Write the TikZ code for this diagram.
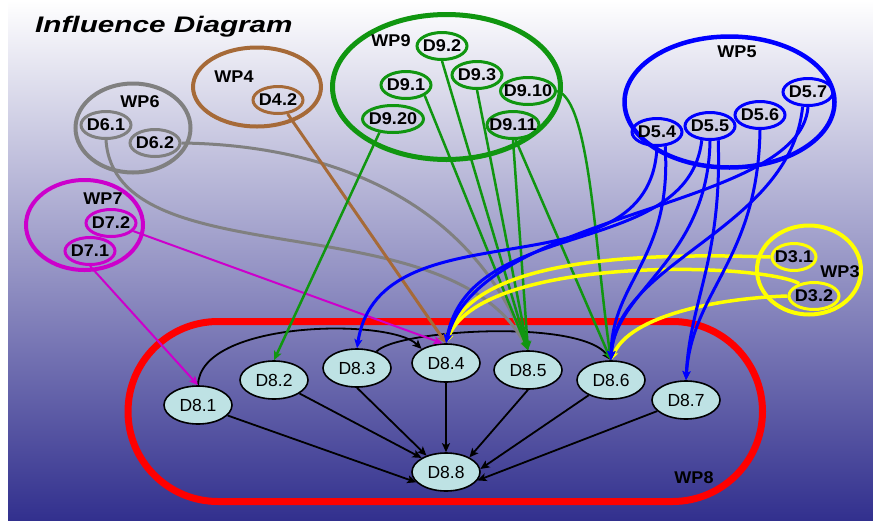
\documentclass[tikz,border=0pt]{standalone}
\usepackage{fontspec}
\setmainfont{Liberation Sans}
\usetikzlibrary{shapes.geometric,arrows.meta}

\definecolor{wpgray}{RGB}{128,128,128}
\definecolor{wpbrown}{RGB}{166,106,56}
\definecolor{wpgreen}{RGB}{16,150,16}
\definecolor{wpblue}{RGB}{0,0,255}
\definecolor{wpmag}{RGB}{204,0,204}
\definecolor{wpyellow}{RGB}{255,255,0}
\definecolor{wpred}{RGB}{255,0,0}
\definecolor{dfill}{RGB}{190,226,228}
\definecolor{bgmid}{RGB}{198,198,220}
\definecolor{bgbot}{RGB}{50,48,142}

% slightly widened lettering
\newcommand{\wide}[1]{\scalebox{1.06}[1]{#1}}

\begin{document}
\begin{tikzpicture}[x=1pt, y=-1pt,
  wp/.style={ellipse, draw, line width=4pt, inner sep=0pt},
  dd/.style={ellipse, draw, line width=3pt, inner sep=0pt,
             minimum width=50pt, minimum height=27pt},
  lab/.style={font=\fontsize{17}{19}\selectfont\bfseries, inner sep=0pt},
  d8/.style={ellipse, draw=black, line width=1.6pt, fill=dfill, inner sep=0pt,
             minimum width=68pt, minimum height=38pt,
             font=\fontsize{17.5}{20}\selectfont},
  tip/.style={-{Stealth[length=9pt,width=8pt,inset=2pt]}},
  blk/.style={tip, draw=black, line width=1.8pt},
  lgray/.style={tip, draw=wpgray, line width=3pt},
  lbrown/.style={tip, draw=wpbrown, line width=3pt},
  lmag/.style={tip, draw=wpmag, line width=2pt},
  lgreen/.style={tip, draw=wpgreen, line width=2.5pt},
  lyellow/.style={tip, draw=wpyellow, line width=3.5pt},
  lblue/.style={tip, draw=wpblue, line width=3pt}]

\useasboundingbox (0,0) rectangle (873,520);

% background
\fill[top color=white, middle color=bgmid, bottom color=bgbot] (8,0) rectangle (873,520);

% title
\node[anchor=base west, inner sep=0pt, font=\fontsize{22.5}{26}\selectfont\bfseries\itshape]
  (title) at (35,32) {\scalebox{1.32}[1]{Influence Diagram}};

% WP8 frame
\node[draw=wpred, line width=7pt, rounded corners=90pt, minimum width=634.5pt,
      minimum height=180pt, inner sep=0pt] (wp8) at (445.25,411.5) {};
\node[lab] (wp8l) at (694,478) {\wide{WP8}};

% work package groups
\node[wp, draw=wpgray, minimum width=115pt, minimum height=89pt] (wp6) at (133,128) {};
\node[lab] (wp6l) at (140,102) {\wide{WP6}};
\node[dd, draw=wpgray, label={[lab]center:\wide{D6.1}}] (d61) at (106,125) {};
\node[dd, draw=wpgray, label={[lab]center:\wide{D6.2}}] (d62) at (155,143) {};

\node[wp, draw=wpbrown, minimum width=128pt, minimum height=79pt] (wp4) at (257,87) {};
\node[lab] (wp4l) at (234,77) {\wide{WP4}};
\node[dd, draw=wpbrown, label={[lab]center:\wide{D4.2}}] (d42) at (278,100) {};

\node[wp, draw=wpgreen, line width=5pt, minimum width=228pt, minimum height=145pt] (wp9) at (446.5,87) {};
\node[lab] (wp9l) at (391,41) {\wide{WP9}};
\node[dd, draw=wpgreen, label={[lab]center:\wide{D9.2}}] (d92) at (442,46) {};
\node[dd, draw=wpgreen, label={[lab]center:\wide{D9.1}}] (d91) at (406,85) {};
\node[dd, draw=wpgreen, label={[lab]center:\wide{D9.3}}] (d93) at (477,75) {};
\node[dd, draw=wpgreen, minimum width=55pt, label={[lab]center:\wide{D9.10}}] (d910) at (528,91) {};
\node[dd, draw=wpgreen, minimum width=61pt, label={[lab]center:\wide{D9.20}}] (d920) at (393,119) {};
\node[dd, draw=wpgreen, minimum width=52pt, label={[lab]center:\wide{D9.11}}] (d911) at (513,125) {};

\node[wp, draw=wpblue, line width=4.5pt, minimum width=210pt, minimum height=131pt] (wp5) at (729.5,102) {};
\node[lab] (wp5l) at (737,52) {\wide{WP5}};
\node[dd, draw=wpblue, label={[lab]center:\wide{D5.4}}] (d54) at (657,132) {};
\node[dd, draw=wpblue, label={[lab]center:\wide{D5.5}}] (d55) at (710,126) {};
\node[dd, draw=wpblue, label={[lab]center:\wide{D5.6}}] (d56) at (760,115) {};
\node[dd, draw=wpblue, label={[lab]center:\wide{D5.7}}] (d57) at (808,92) {};

\node[wp, draw=wpmag, minimum width=117pt, minimum height=90pt] (wp7) at (84.5,225) {};
\node[lab] (wp7l) at (103,199) {\wide{WP7}};
\node[dd, draw=wpmag, label={[lab]center:\wide{D7.2}}] (d72) at (111,223) {};
\node[dd, draw=wpmag, label={[lab]center:\wide{D7.1}}] (d71) at (90,251) {};

\node[wp, draw=wpyellow, minimum width=104pt, minimum height=89pt] (wp3) at (809,270) {};
\node[lab] (wp3l) at (840,272) {\wide{WP3}};
\node[dd, draw=wpyellow, minimum width=44pt, label={[lab]center:\wide{D3.1}}] (d31) at (794,257) {};
\node[dd, draw=wpyellow, label={[lab]center:\wide{D3.2}}] (d32) at (814,296) {};

% WP8 deliverables
\node[d8] (d81) at (198,405) {D8.1};
\node[d8] (d82) at (274,380) {D8.2};
\node[d8] (d83) at (357,368) {D8.3};
\node[d8] (d84) at (446,363) {D8.4};
\node[d8] (d85) at (528,370) {D8.5};
\node[d8] (d86) at (611,380) {D8.6};
\node[d8] (d87) at (686,400) {D8.7};
\node[d8] (d88) at (446,472) {D8.8};

% links inside WP8
\draw[blk] (d81) -- (d88.199);
\draw[blk] (d82) -- (d88.150);
\draw[blk] (d83.south) -- (d88.140);
\draw[blk] (d84) -- (d88.north);
\draw[blk] (d85.south) -- (d88.32);
\draw[blk] (d86) -- (d88.5);
\draw[blk] (d87) -- (d88.-15);
\draw[blk] (d81.north) .. controls (200,320) and (390,318) .. (d84.150);
\draw[blk] (d83.40) .. controls (395,330) and (580,318) .. (d86.north);

% WP6
\draw[lgray] (d61.south) .. controls (115,280) and (450,200) .. (d85.north);
\draw[lgray] (d62.east) .. controls (330,145) and (470,200) .. (d85.north);

% WP4
\draw[lbrown] (d42) -- (d84.north);

% WP7
\draw[lmag] (d71.south) -- (d81.north);
\draw[lmag] (d72) -- (d84.100);

% WP9
\draw[lgreen] (d920.225) -- (d82.north);
\draw[lgreen] (d91.south east) -- (d85.north);
\draw[lgreen] (d92.south) -- (d85.north);
\draw[lgreen] (d93.south) -- (d85.north);
\draw[lgreen] (d911.south) -- (d85.north);
\draw[lgreen] (d911.280) -- (d86.north);
\draw[lgreen] (d910.east) .. controls (590,100) and (595,250) .. (d86.north);

% WP3
\draw[lyellow] (d31.west) .. controls (620,252) and (470,262) .. (d84.north);
\draw[lyellow] (d32.140) .. controls (760,262) and (480,255) .. (d84.north);
\draw[lyellow] (d32.west) .. controls (720,298) and (630,315) .. (d86.north);

% WP5
\draw[lblue] (d54.south) .. controls (650,300) and (380,200) .. (d83.north);
\draw[lblue] (d54.300) .. controls (672,260) and (612,280) .. (d86.north);
\draw[lblue] (d55.240) .. controls (688,260) and (470,215) .. (d84.north);
\draw[lblue] (d55.south) .. controls (708,260) and (615,290) .. (d86.north);
\draw[lblue] (d55.300) .. controls (722,260) and (690,300) .. (d87.north);
\draw[lblue] (d56.south) .. controls (758,260) and (692,290) .. (d87.north);
\draw[lblue] (d57.south) .. controls (800,210) and (480,210) .. (d84.north);
\draw[lblue] (d57.250) .. controls (790,230) and (616,260) .. (d86.north);
\end{tikzpicture}
\end{document}
